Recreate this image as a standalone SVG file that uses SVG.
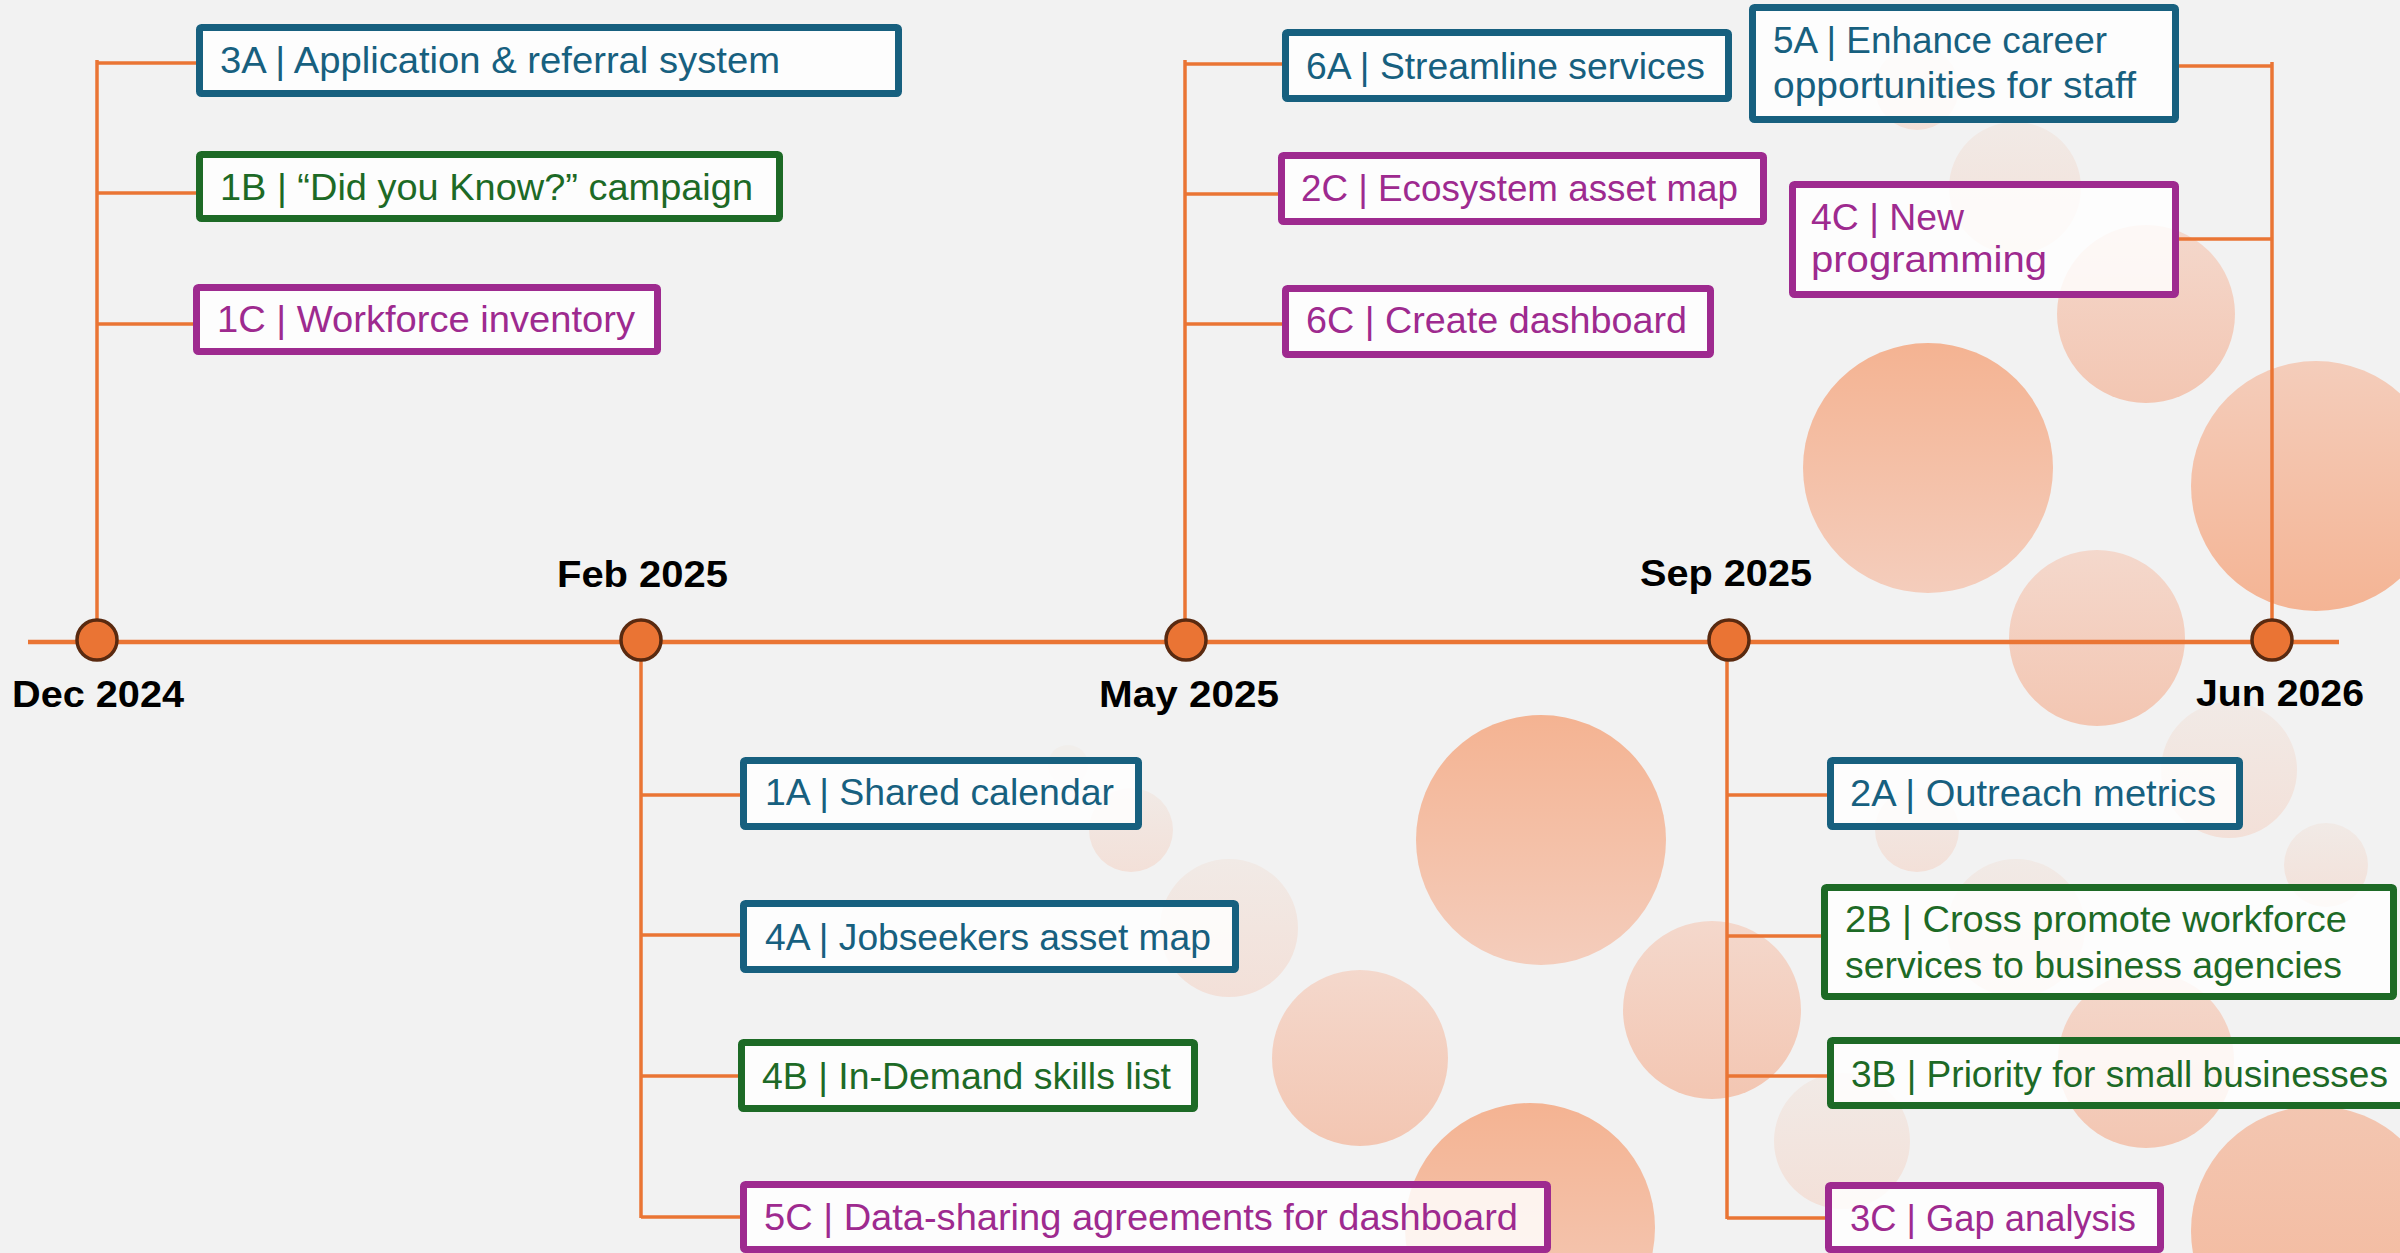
<svg xmlns="http://www.w3.org/2000/svg" width="2400" height="1253" viewBox="0 0 2400 1253">
<defs>
<linearGradient id="gA" x1="0" y1="0" x2="0" y2="1"><stop offset="0" stop-color="#F4B392"/><stop offset="1" stop-color="#F4CDBC"/></linearGradient>
<linearGradient id="gB" x1="0" y1="0" x2="0" y2="1"><stop offset="0" stop-color="#F4CDBB"/><stop offset="1" stop-color="#F4B494"/></linearGradient>
<linearGradient id="gC" x1="0" y1="0" x2="0" y2="1"><stop offset="0" stop-color="#F4D8CC"/><stop offset="1" stop-color="#F3C6B2"/></linearGradient>
<linearGradient id="gD" x1="0" y1="0" x2="0" y2="1"><stop offset="0" stop-color="#F3C6B1"/><stop offset="1" stop-color="#F4B89B"/></linearGradient>
<linearGradient id="gF" x1="0" y1="0" x2="0" y2="1"><stop offset="0" stop-color="#F1EAE6"/><stop offset="1" stop-color="#F3E0D8"/></linearGradient>
</defs>
<style>
.bg{fill:#F2F2F2}
.ln{stroke:#EA7534;stroke-width:3.5;fill:none}
.main{stroke:#EA7534;stroke-width:4.5;fill:none}
.dot{fill:#EA7434;stroke:#5A2A10;stroke-width:3.5}
.box{fill:#FFFFFF;fill-opacity:0.82;stroke-width:7;rx:2}
.A{stroke:#17607F}
.B{stroke:#1D6A26}
.C{stroke:#9E2A8F}
.t{font-family:"Liberation Sans",Arial,sans-serif;font-size:37px}
.tA{fill:#17607F}
.tB{fill:#1D6A26}
.tC{fill:#9E2A8F}
.d{font-family:"Liberation Sans",Arial,sans-serif;font-size:37px;font-weight:bold;fill:#000}
</style>
<rect class="bg" x="0" y="0" width="2400" height="1253"/>
<g id="bubbles">
<circle cx="1928" cy="468" r="125" fill="url(#gA)"/>
<circle cx="2316" cy="486" r="125" fill="url(#gB)"/>
<circle cx="2146" cy="314" r="89" fill="url(#gC)"/>
<circle cx="2097" cy="638" r="88" fill="url(#gC)"/>
<circle cx="2015" cy="188" r="66" fill="url(#gF)"/>
<circle cx="1917" cy="88" r="42" fill="url(#gF)"/>
<circle cx="1541" cy="840" r="125" fill="url(#gA)"/>
<circle cx="1712" cy="1010" r="89" fill="url(#gC)"/>
<circle cx="1360" cy="1058" r="88" fill="url(#gC)"/>
<circle cx="1229" cy="928" r="69" fill="url(#gF)"/>
<circle cx="1131" cy="830" r="42" fill="url(#gF)"/>
<circle cx="1068" cy="765" r="20" fill="#F1EEEB"/>
<circle cx="1530" cy="1228" r="125" fill="url(#gA)"/>
<circle cx="1842" cy="1141" r="68" fill="url(#gF)"/>
<circle cx="2229" cy="770" r="68" fill="url(#gF)"/>
<circle cx="2326" cy="865" r="42" fill="url(#gF)"/>
<circle cx="1917" cy="830" r="42" fill="url(#gF)"/>
<circle cx="2016" cy="928" r="69" fill="url(#gF)"/>
<circle cx="2146" cy="1060" r="88" fill="url(#gC)"/>
<circle cx="2316" cy="1231" r="125" fill="url(#gD)"/>
</g>
<g id="connectors">
<line class="main" x1="28" y1="642" x2="2339" y2="642"/>
<line class="ln" x1="97" y1="60" x2="97" y2="640"/>
<line class="ln" x1="97" y1="63" x2="197" y2="63"/>
<line class="ln" x1="97" y1="193" x2="197" y2="193"/>
<line class="ln" x1="97" y1="324" x2="194" y2="324"/>
<line class="ln" x1="1185" y1="60" x2="1185" y2="640"/>
<line class="ln" x1="1185" y1="64" x2="1283" y2="64"/>
<line class="ln" x1="1185" y1="194" x2="1279" y2="194"/>
<line class="ln" x1="1185" y1="324" x2="1283" y2="324"/>
<line class="ln" x1="2272" y1="62" x2="2272" y2="640"/>
<line class="ln" x1="2178" y1="66" x2="2273" y2="66"/>
<line class="ln" x1="2178" y1="239" x2="2273" y2="239"/>
<line class="ln" x1="641" y1="640" x2="641" y2="1218"/>
<line class="ln" x1="641" y1="795" x2="741" y2="795"/>
<line class="ln" x1="641" y1="935" x2="741" y2="935"/>
<line class="ln" x1="641" y1="1076" x2="739" y2="1076"/>
<line class="ln" x1="641" y1="1217" x2="741" y2="1217"/>
<line class="ln" x1="1727" y1="640" x2="1727" y2="1219"/>
<line class="ln" x1="1727" y1="795" x2="1828" y2="795"/>
<line class="ln" x1="1727" y1="936" x2="1822" y2="936"/>
<line class="ln" x1="1727" y1="1076" x2="1828" y2="1076"/>
<line class="ln" x1="1727" y1="1218" x2="1826" y2="1218"/>
</g>
<g id="milestones">
<g id="m-dec2024"><circle class="dot" cx="97" cy="640" r="20"/><text class="d" x="12" y="707" textLength="172" lengthAdjust="spacingAndGlyphs">Dec 2024</text></g>
<g id="m-feb2025"><circle class="dot" cx="641" cy="640" r="20"/><text class="d" x="557" y="587" textLength="171" lengthAdjust="spacingAndGlyphs">Feb 2025</text></g>
<g id="m-may2025"><circle class="dot" cx="1186" cy="640" r="20"/><text class="d" x="1099" y="707" textLength="180" lengthAdjust="spacingAndGlyphs">May 2025</text></g>
<g id="m-sep2025"><circle class="dot" cx="1729" cy="640" r="20"/><text class="d" x="1640" y="586" textLength="172" lengthAdjust="spacingAndGlyphs">Sep 2025</text></g>
<g id="m-jun2026"><circle class="dot" cx="2272" cy="640" r="20"/><text class="d" x="2196" y="706" textLength="168" lengthAdjust="spacingAndGlyphs">Jun 2026</text></g>
</g>
<g id="n-3A"><rect class="box A" x="199.5" y="27.5" width="699" height="66"/><text class="t tA" x="220" y="73" textLength="560" lengthAdjust="spacingAndGlyphs">3A | Application &amp; referral system</text></g>
<g id="n-1B"><rect class="box B" x="199.5" y="154.5" width="580" height="64"/><text class="t tB" x="220" y="200" textLength="533" lengthAdjust="spacingAndGlyphs">1B | “Did you Know?” campaign</text></g>
<g id="n-1C"><rect class="box C" x="196.5" y="287.5" width="461" height="64"/><text class="t tC" x="217" y="332" textLength="418" lengthAdjust="spacingAndGlyphs">1C | Workforce inventory</text></g>
<g id="n-6A"><rect class="box A" x="1285.5" y="32.5" width="443" height="66"/><text class="t tA" x="1306" y="79" textLength="399" lengthAdjust="spacingAndGlyphs">6A | Streamline services</text></g>
<g id="n-2C"><rect class="box C" x="1281.5" y="155.5" width="482" height="66"/><text class="t tC" x="1301" y="201" textLength="437" lengthAdjust="spacingAndGlyphs">2C | Ecosystem asset map</text></g>
<g id="n-6C"><rect class="box C" x="1285.5" y="288.5" width="425" height="66"/><text class="t tC" x="1306" y="333" textLength="381" lengthAdjust="spacingAndGlyphs">6C | Create dashboard</text></g>
<g id="n-5A"><rect class="box A" x="1752.5" y="7.5" width="423" height="112"/><text class="t tA" x="1773" y="53" textLength="334" lengthAdjust="spacingAndGlyphs">5A | Enhance career</text><text class="t tA" x="1773" y="98" textLength="363" lengthAdjust="spacingAndGlyphs">opportunities for staff</text></g>
<g id="n-4C"><rect class="box C" x="1792.5" y="184.5" width="383" height="110"/><text class="t tC" x="1811" y="230" textLength="153" lengthAdjust="spacingAndGlyphs">4C | New</text><text class="t tC" x="1811" y="272" textLength="236" lengthAdjust="spacingAndGlyphs">programming</text></g>
<g id="n-1A"><rect class="box A" x="743.5" y="760.5" width="395" height="66"/><text class="t tA" x="765" y="805" textLength="349" lengthAdjust="spacingAndGlyphs">1A | Shared calendar</text></g>
<g id="n-4A"><rect class="box A" x="743.5" y="903.5" width="492" height="66"/><text class="t tA" x="765" y="950" textLength="446" lengthAdjust="spacingAndGlyphs">4A | Jobseekers asset map</text></g>
<g id="n-4B"><rect class="box B" x="741.5" y="1042.5" width="453" height="66"/><text class="t tB" x="762" y="1089" textLength="409" lengthAdjust="spacingAndGlyphs">4B | In-Demand skills list</text></g>
<g id="n-5C"><rect class="box C" x="743.5" y="1184.5" width="804" height="65"/><text class="t tC" x="764" y="1230" textLength="754" lengthAdjust="spacingAndGlyphs">5C | Data-sharing agreements for dashboard</text></g>
<g id="n-2A"><rect class="box A" x="1830.5" y="760.5" width="409" height="66"/><text class="t tA" x="1850" y="806" textLength="366" lengthAdjust="spacingAndGlyphs">2A | Outreach metrics</text></g>
<g id="n-2B"><rect class="box B" x="1824.5" y="887.5" width="569" height="109"/><text class="t tB" x="1845" y="932" textLength="502" lengthAdjust="spacingAndGlyphs">2B | Cross promote workforce</text><text class="t tB" x="1845" y="978" textLength="497" lengthAdjust="spacingAndGlyphs">services to business agencies</text></g>
<g id="n-3B"><rect class="box B" x="1830.5" y="1040.5" width="590" height="65"/><text class="t tB" x="1851" y="1087" textLength="537" lengthAdjust="spacingAndGlyphs">3B | Priority for small businesses</text></g>
<g id="n-3C"><rect class="box C" x="1828.5" y="1185.5" width="332" height="64"/><text class="t tC" x="1850" y="1231" textLength="286" lengthAdjust="spacingAndGlyphs">3C | Gap analysis</text></g>
</svg>
